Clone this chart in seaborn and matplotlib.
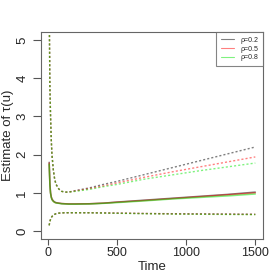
import pandas as pd
import seaborn as sns
import matplotlib.pyplot as plt
import numpy as np

# Data
time = [10, 15, 20, 25, 30, 40, 50, 60, 80, 100, 125, 150, 200, 300, 400, 500, 700, 900, 1100, 1300, 1500]
rhos = ['ρ=0.2', 'ρ=0.5', 'ρ=0.8']

est = {
    'ρ=0.2': [1.8, 1.25, 1.0, 0.9, 0.84, 0.79, 0.76, 0.745, 0.73, 0.72, 0.715, 0.71, 0.71, 0.715, 0.73, 0.76, 0.81, 0.86, 0.91, 0.96, 1.02],
    'ρ=0.5': [1.78, 1.23, 0.99, 0.89, 0.83, 0.78, 0.75, 0.74, 0.73, 0.72, 0.715, 0.71, 0.71, 0.715, 0.73, 0.755, 0.80, 0.85, 0.90, 0.95, 1.0],
    'ρ=0.8': [1.75, 1.2, 0.98, 0.88, 0.82, 0.775, 0.75, 0.735, 0.725, 0.715, 0.71, 0.705, 0.705, 0.71, 0.725, 0.745, 0.79, 0.84, 0.88, 0.92, 0.97],
}
upper = {
    'ρ=0.2': [6.0, 3.8, 3.0, 2.4, 2.0, 1.6, 1.35, 1.22, 1.1, 1.04, 1.02, 1.02, 1.06, 1.13, 1.22, 1.30, 1.48, 1.66, 1.84, 2.02, 2.2],
    'ρ=0.5': [6.0, 3.8, 3.0, 2.4, 2.0, 1.6, 1.35, 1.22, 1.1, 1.04, 1.02, 1.02, 1.05, 1.11, 1.18, 1.26, 1.41, 1.55, 1.68, 1.81, 1.94],
    'ρ=0.8': [6.0, 3.8, 3.0, 2.4, 2.0, 1.6, 1.35, 1.22, 1.1, 1.04, 1.02, 1.02, 1.04, 1.09, 1.16, 1.22, 1.36, 1.47, 1.58, 1.68, 1.78],
}
lower = {
    'ρ=0.2': [0.15, 0.25, 0.31, 0.35, 0.38, 0.42, 0.44, 0.455, 0.47, 0.475, 0.48, 0.48, 0.48, 0.48, 0.475, 0.47, 0.46, 0.455, 0.45, 0.445, 0.44],
    'ρ=0.5': [0.15, 0.25, 0.31, 0.35, 0.38, 0.42, 0.44, 0.455, 0.47, 0.475, 0.48, 0.48, 0.48, 0.48, 0.475, 0.47, 0.46, 0.45, 0.445, 0.44, 0.435],
    'ρ=0.8': [0.15, 0.25, 0.31, 0.35, 0.38, 0.42, 0.44, 0.455, 0.47, 0.475, 0.48, 0.48, 0.48, 0.478, 0.472, 0.465, 0.455, 0.445, 0.44, 0.435, 0.43],
}

# Styles
cols = {'ρ=0.2': (0, 0, 0, 0.5), 'ρ=0.5': (1, 0, 0, 0.5), 'ρ=0.8': (0, 0.9, 0, 0.5)}
solidLw = 1.1
dotLw = 1.0
dotDash = (1.5, 1.5)

sns.set_style('ticks')
plt.rcParams['font.family'] = ['Liberation Sans', 'DejaVu Sans']

fig = plt.figure(figsize=(2.8, 2.8), dpi=100)
ax = fig.add_axes([0.146, 0.146, 0.793, 0.740])

for r in rhos:
    df = pd.DataFrame({'time': time, 'est': est[r], 'up': upper[r], 'lo': lower[r]})
    sns.lineplot(x='time', y='up', data=df, ax=ax, color=cols[r], lw=dotLw)
    ax.lines[-1].set_dashes(dotDash)
    sns.lineplot(x='time', y='lo', data=df, ax=ax, color=cols[r], lw=dotLw)
    ax.lines[-1].set_dashes(dotDash)
    sns.lineplot(x='time', y='est', data=df, ax=ax, color=cols[r], lw=solidLw, label=r)

ax.set_xlim(-50, 1555)
ax.set_ylim(-0.21, 5.21)
ax.set_xticks([0, 500, 1000, 1500])
ax.set_yticks([0, 1, 2, 3, 4, 5])
ax.tick_params(axis='x', labelsize=9, length=4, width=0.8, color='#555555', pad=2)
ax.tick_params(axis='y', labelsize=9.5, length=6, width=0.8, color='#555555', pad=3)
for lab in ax.get_yticklabels():
    lab.set_rotation(90)
    lab.set_va('center')
for s in ax.spines.values():
    s.set_color('#666666')
    s.set_linewidth(0.8)
ax.set_xlabel('Time', fontsize=9.5, labelpad=1)
ax.set_ylabel('Estimate of τ(u)', fontsize=9.5, labelpad=2)

leg = ax.legend(loc='upper right', fontsize=5, frameon=True, fancybox=False,
                borderaxespad=0, handlelength=1.8, handletextpad=0.9, labelspacing=0.25,
                borderpad=0.7)
leg.get_frame().set_edgecolor('#666666')
leg.get_frame().set_linewidth(0.8)
for h in leg.get_lines():
    h.set_linewidth(0.8)

fig.savefig('out.png', dpi=100)
